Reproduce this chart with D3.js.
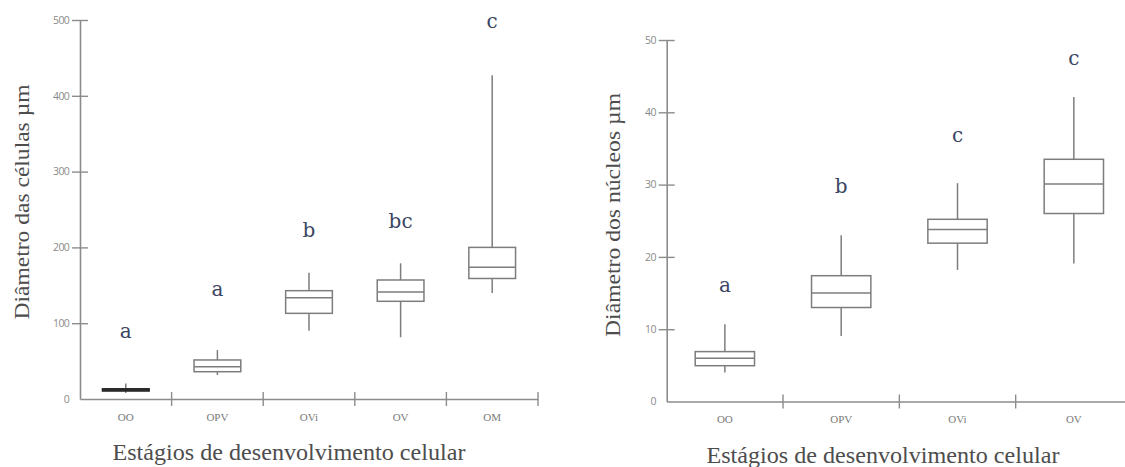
<!DOCTYPE html>
<html>
<head>
<meta charset="utf-8">
<script src="https://cdn.jsdelivr.net/npm/d3@7"></script>
<style>
  html, body { margin: 0; padding: 0; background: #fff; }
  svg { display: block; }
</style>
</head>
<body>
<svg id="chart" width="1125" height="467"></svg>
<script>
// ---------- Left chart: cell diameter ----------
const leftCategories = ["OO", "OPV", "OVi", "OV", "OM"];
const leftMin    = [8, 31.7, 90, 81.4, 140];
const leftQ1     = [10.5, 36, 113, 128.9, 159];
const leftMedian = [12, 42.6, 133.6, 141, 173.7];
const leftQ3     = [13.5, 51.5, 142.9, 157, 200];
const leftMax    = [20.6, 64.6, 166.6, 179, 427];
const leftLetters = ["a", "a", "b", "bc", "c"];
const leftLetterValues = [80.5, 136, 213.7, 225.6, 489.5];
const leftTicks = [0, 100, 200, 300, 400, 500];
const leftYTitle = "Diâmetro das células µm";

// ---------- Right chart: nucleus diameter ----------
const rightCategories = ["OO", "OPV", "OVi", "OV"];
const rightMin    = [4.0, 9.06, 18.2, 19.1];
const rightQ1     = [4.95, 13.0, 21.9, 26.0];
const rightMedian = [5.97, 15.0, 23.8, 30.1];
const rightQ3     = [6.9, 17.4, 25.2, 33.5];
const rightMax    = [10.7, 23.0, 30.2, 42.1];
const rightLetters = ["a", "b", "c", "c"];
const rightLetterValues = [15.1, 28.9, 35.9, 46.5];
const rightTicks = [0, 10, 20, 30, 40, 50];
const rightYTitle = "Diâmetro dos núcleos µm";

const xTitle = "Estágios de desenvolvimento celular";

const svg = d3.select("#chart");
const AXIS_COLOR = "#8c8c8c";
const BOX_COLOR = "#7d7d7d";
const LETTER_COLOR = "#3b4663";
const TITLE_COLOR = "#4d4d4d";

function drawPanel(cfg) {
  const g = svg.append("g");
  const rows = cfg.cats.map((c, i) => ({
    cat: c, min: cfg.min[i], q1: cfg.q1[i], med: cfg.med[i], q3: cfg.q3[i], max: cfg.max[i],
    letter: cfg.letters[i], letterV: cfg.letterV[i]
  }));

  const x = d3.scaleBand().domain(cfg.cats).range([cfg.x0, cfg.x1]).paddingInner(0).paddingOuter(0);
  const y = d3.scaleLinear().domain([0, d3.max(cfg.ticks)]).range([cfg.yBottom, cfg.yTop]);

  // Y axis
  const yAxis = g.append("g")
    .attr("transform", `translate(${cfg.x0},0)`)
    .call(d3.axisLeft(y).tickValues(cfg.ticks).tickSize(8).tickSizeOuter(0).tickPadding(3));
  yAxis.select(".domain").attr("stroke", AXIS_COLOR).attr("stroke-width", 1.6);
  yAxis.selectAll(".tick line")
    .attr("x1", 8).attr("x2", -8)
    .attr("stroke", AXIS_COLOR).attr("stroke-width", 1.4)
    .filter(d => d === 0).remove();
  yAxis.selectAll(".tick text")
    .attr("fill", "#8a8a8a")
    .style("font-family", "'Open Sans', sans-serif")
    .style("font-size", "10.5px")
    .style("letter-spacing", "-0.7px");

  // X axis
  const xAxis = g.append("g")
    .attr("transform", `translate(0,${cfg.yBottom})`)
    .call(d3.axisBottom(x).tickSize(0).tickSizeOuter(0).tickPadding(14));
  xAxis.select(".domain").attr("stroke", AXIS_COLOR).attr("stroke-width", 1.6);
  xAxis.selectAll(".tick text")
    .attr("fill", "#7a7a7a")
    .style("font-family", "'Liberation Serif', serif")
    .style("font-size", "11px");
  // boundary ticks between categories
  xAxis.selectAll(".bound").data(cfg.cats).enter().append("line")
    .attr("class", "bound")
    .attr("x1", d => x(d) + x.bandwidth()).attr("x2", d => x(d) + x.bandwidth())
    .attr("y1", -7).attr("y2", 7)
    .attr("stroke", AXIS_COLOR).attr("stroke-width", 1.4);

  const bw = x.bandwidth() * 0.51;
  const cx = d => x(d.cat) + x.bandwidth() / 2;

  const boxes = g.selectAll(".box").data(rows).enter().append("g").attr("class", "box");
  // whiskers
  boxes.append("line")
    .attr("x1", cx).attr("x2", cx)
    .attr("y1", d => y(d.max)).attr("y2", d => y(d.q3))
    .attr("stroke", BOX_COLOR).attr("stroke-width", 1.5);
  boxes.append("line")
    .attr("x1", cx).attr("x2", cx)
    .attr("y1", d => y(d.q1)).attr("y2", d => y(d.min))
    .attr("stroke", BOX_COLOR).attr("stroke-width", 1.5);
  // box
  boxes.append("rect")
    .attr("x", d => cx(d) - bw / 2)
    .attr("width", bw)
    .attr("y", d => y(d.q3))
    .attr("height", d => y(d.q1) - y(d.q3))
    .attr("fill", d => (y(d.q1) - y(d.q3)) < 4 ? "#2a2a2a" : "none")
    .attr("stroke", d => (y(d.q1) - y(d.q3)) < 4 ? "#2a2a2a" : BOX_COLOR)
    .attr("stroke-width", 1.5);
  // median
  boxes.append("line")
    .attr("x1", d => cx(d) - bw / 2).attr("x2", d => cx(d) + bw / 2)
    .attr("y1", d => y(d.med)).attr("y2", d => y(d.med))
    .attr("stroke", d => (y(d.q1) - y(d.q3)) < 4 ? "#2a2a2a" : BOX_COLOR)
    .attr("stroke-width", 1.5);

  // significance letters
  g.selectAll(".letter").data(rows).enter().append("text")
    .attr("class", "letter")
    .attr("x", cx)
    .attr("y", d => y(d.letterV))
    .attr("text-anchor", "middle")
    .attr("fill", LETTER_COLOR)
    .style("font-family", "'DejaVu Serif', serif")
    .style("font-size", "20px")
    .text(d => d.letter);

  // axis titles
  g.append("text")
    .attr("x", cfg.xTitleX).attr("y", cfg.xTitleY)
    .attr("text-anchor", "middle")
    .attr("fill", TITLE_COLOR)
    .attr("textLength", 353).attr("lengthAdjust", "spacingAndGlyphs")
    .style("font-family", "'Liberation Serif', serif")
    .style("font-size", "22.5px")
    .text(xTitle);

  g.append("text")
    .attr("transform", `translate(${cfg.yTitleX},${cfg.yTitleY}) rotate(-90)`)
    .attr("text-anchor", "middle")
    .attr("fill", TITLE_COLOR)
    .attr("textLength", cfg.yTitleLen).attr("lengthAdjust", "spacingAndGlyphs")
    .style("font-family", "'Liberation Serif', serif")
    .style("font-size", "22px")
    .text(cfg.yTitle);
}

drawPanel({
  cats: leftCategories, min: leftMin, q1: leftQ1, med: leftMedian, q3: leftQ3, max: leftMax,
  letters: leftLetters, letterV: leftLetterValues, ticks: leftTicks,
  x0: 80, x1: 538, yTop: 20, yBottom: 399,
  xTitleX: 289, xTitleY: 460,
  yTitle: leftYTitle, yTitleX: 29, yTitleY: 202, yTitleLen: 235
});

drawPanel({
  cats: rightCategories, min: rightMin, q1: rightQ1, med: rightMedian, q3: rightQ3, max: rightMax,
  letters: rightLetters, letterV: rightLetterValues, ticks: rightTicks,
  x0: 666.7, x1: 1132, yTop: 40, yBottom: 401.5,
  xTitleX: 883, xTitleY: 463,
  yTitle: rightYTitle, yTitleX: 620, yTitleY: 215, yTitleLen: 244
});
</script>
</body>
</html>
